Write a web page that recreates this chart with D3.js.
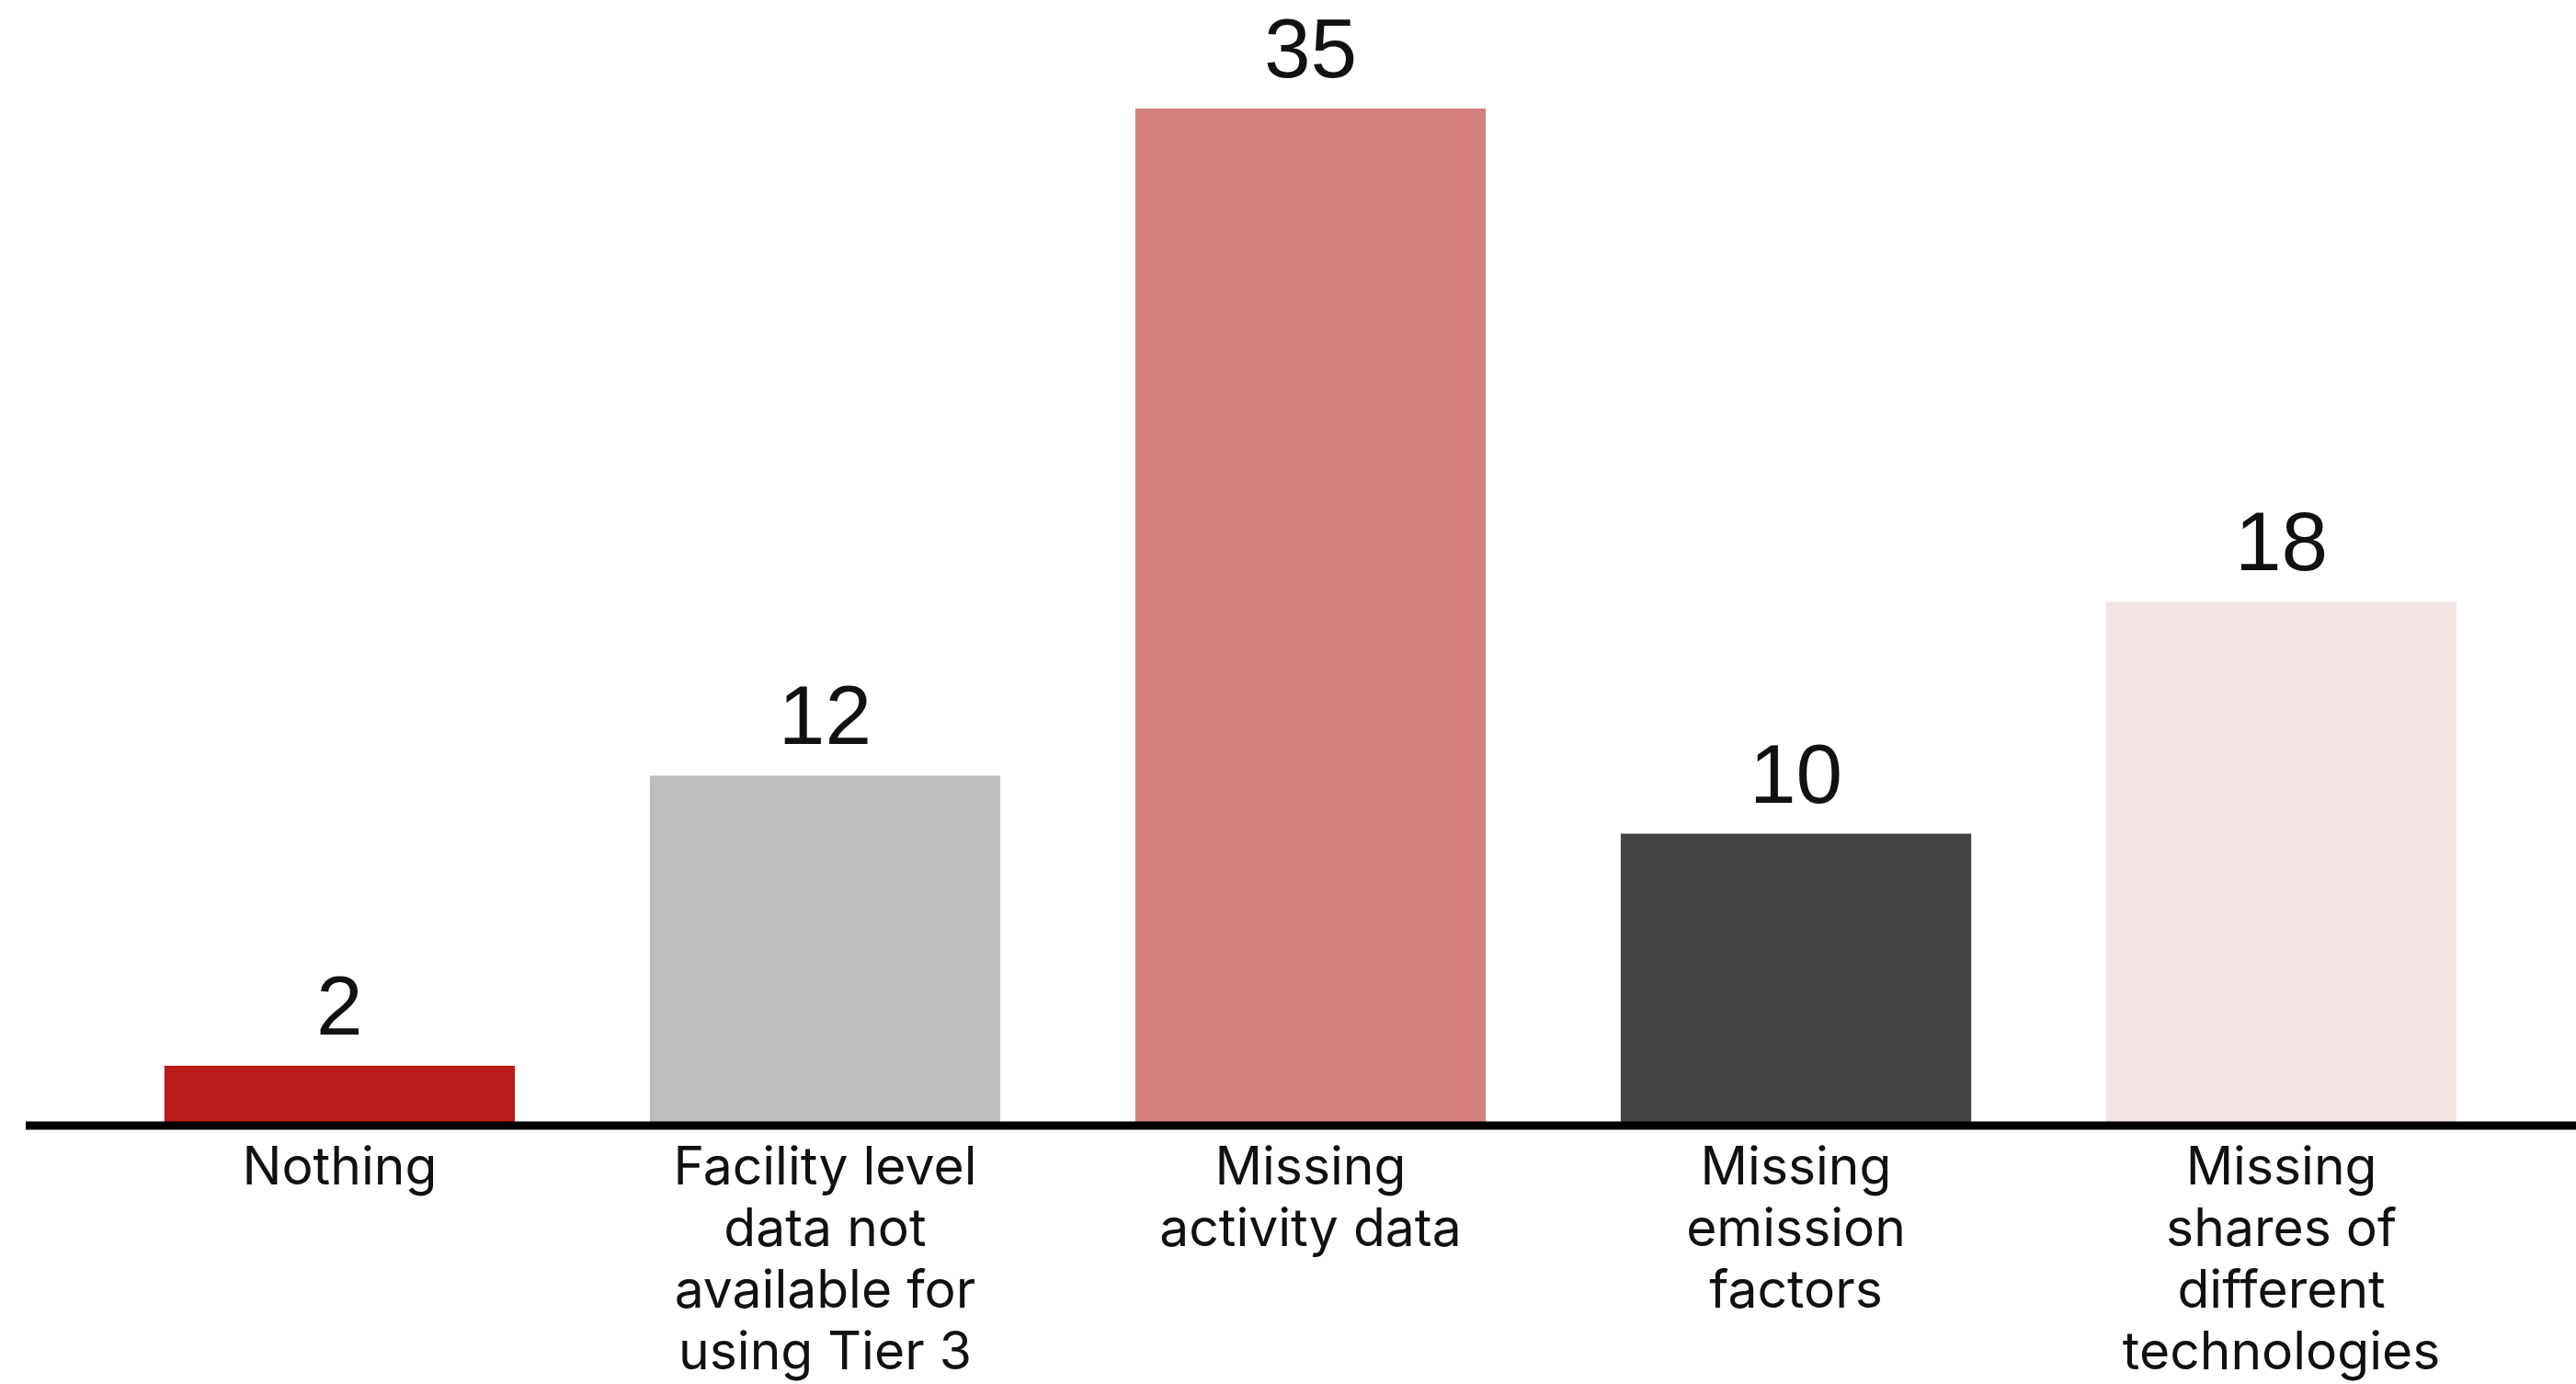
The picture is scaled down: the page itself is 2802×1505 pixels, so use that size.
<!DOCTYPE html>
<html>
<head>
<meta charset="utf-8">
<script src="https://cdn.jsdelivr.net/npm/d3@7"></script>
<style>
    body { margin: 0; background: #fff; }
    .cat-label { font-family: "Inter", sans-serif; font-size: 57px; fill: #111; }
    .value-label { font-family: "Liberation Sans", Arial, sans-serif; font-size: 91px; fill: #111; }
</style>
</head>
<body>
<div id="chart"></div>
<script>
    // data
    var categories = [
        "Nothing",
        "Facility level\ndata not\navailable for\nusing Tier 3",
        "Missing\nactivity data",
        "Missing\nemission\nfactors",
        "Missing\nshares of\ndifferent\ntechnologies"
    ];
    var values = [2, 12, 35, 10, 18];
    var colors = ["#bd1a1a", "#bdbdbd", "#d48080", "#444444", "#f3e4e4"];

    var width = 2802, height = 1505;
    var baseY = 1222;

    var svg = d3.select("#chart").append("svg")
            .attr("width", width)
            .attr("height", height);

    // x band scale, bars are ~381px wide on a 528px step
    var x = d3.scaleBand()
            .domain(categories)
            .range([32, 2819])
            .paddingInner(0.278)
            .paddingOuter(0.278);

    var y = d3.scaleLinear()
            .domain([0, 35])
            .range([baseY, 118]);

    // bars
    svg.selectAll(".bar")
            .data(values)
            .enter().append("rect")
            .attr("class", "bar")
            .attr("x", function(d, i) { return x(categories[i]); })
            .attr("width", x.bandwidth())
            .attr("y", function(d) { return y(d); })
            .attr("height", function(d) { return y(0) - y(d); })
            .attr("fill", function(d, i) { return colors[i]; });

    // value labels above bars
    svg.selectAll(".value-label")
            .data(values)
            .enter().append("text")
            .attr("class", "value-label")
            .attr("x", function(d, i) { return x(categories[i]) + x.bandwidth() / 2; })
            .attr("y", function(d) { return y(d) - 34; })
            .attr("text-anchor", "middle")
            .text(function(d) { return d; });

    // the base line
    svg.append("line")
            .attr("x1", 28)
            .attr("x2", width)
            .attr("y1", baseY + 2)
            .attr("y2", baseY + 2)
            .attr("stroke", "#000")
            .attr("stroke-width", 9);

    // x axis, only used for the category labels
    var xAxis = svg.append("g")
            .attr("transform", "translate(0," + baseY + ")")
            .call(d3.axisBottom(x).tickSize(0).tickFormat(""));
    xAxis.select(".domain").remove();

    xAxis.selectAll(".tick").append("text")
            .attr("class", "cat-label")
            .attr("text-anchor", "middle")
            .each(function(d) {
                var lines = d.split("\n");
                var t = d3.select(this);
                lines.forEach(function(line, k) {
                    t.append("tspan")
                            .attr("x", 0)
                            .attr("y", 66 + k * 67)
                            .text(line);
                });
            });
</script>
</body>
</html>
